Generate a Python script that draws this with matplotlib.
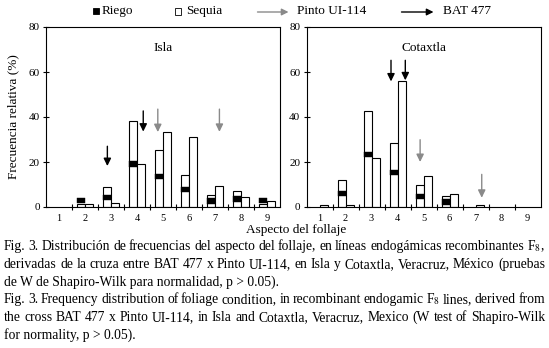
import numpy as np
import matplotlib
matplotlib.use("Agg")
import matplotlib.pyplot as plt
from matplotlib.patches import Rectangle

plt.rcParams['font.family'] = ['Liberation Serif', 'DejaVu Serif']
plt.rcParams['mathtext.fontset'] = 'stix'

# ---------------- data ----------------
categories = [1, 2, 3, 4, 5, 6, 7, 8, 9]

isla_riego_bar = [0, 1.5, 8.8, 38.1, 25.2, 14.2, 5.2, 7.1, 1.4]
isla_riego_mark = [np.nan, 2.9, 4.3, 19.1, 13.5, 7.9, 2.6, 3.5, 3.0]
isla_sequia = [0, 1.5, 1.6, 19.0, 33.2, 31.0, 9.3, 4.3, 2.6]

cot_riego_bar = [0, 12.0, 42.8, 28.4, 9.6, 4.7, 0, 0, 0]
cot_riego_mark = [np.nan, 5.9, 23.4, 15.4, 4.8, 2.2, np.nan, np.nan, np.nan]
cot_sequia = [0.9, 0.9, 21.7, 55.8, 13.7, 5.6, 0.9, 0, 0]

# arrows: x position, top, tip
isla_bat_x, isla_bat_top, isla_bat_tip = [2.86, 4.24], [27.0, 42.7], [18.2, 33.5]
isla_pinto_x, isla_pinto_top, isla_pinto_tip = [4.80, 7.17], [43.5, 43.5], [33.3, 33.4]
cot_bat_x, cot_bat_top, cot_bat_tip = [3.75, 4.30], [65.2, 65.2], [55.8, 56.3]
cot_pinto_x, cot_pinto_top, cot_pinto_tip = [4.87, 7.24], [29.9, 14.5], [20.0, 4.1]

yticks = [0, 20, 40, 60, 80]
panel_titles = ['Isla', 'Cotaxtla']

caption_lines = [
    ("Fig. 3. Distribución de frecuencias del aspecto del follaje, en líneas endogámicas recombinantes F$_{8}$,", True),
    ("derivadas de la cruza entre BAT 477 x Pinto UI-114, en Isla y Cotaxtla, Veracruz, México (pruebas", True),
    ("de W de Shapiro-Wilk para normalidad, p > 0.05).", False),
    ("Fig. 3. Frequency distribution of foliage condition, in recombinant endogamic F$_{8}$ lines, derived from", True),
    ("the cross BAT 477 x Pinto UI-114, in Isla and Cotaxtla, Veracruz, Mexico (W test of Shapiro-Wilk", True),
    ("for normality, p > 0.05).", False),
]

# ---------------- figure ----------------
W, H = 549, 348
fig = plt.figure(figsize=(W / 100, H / 100), dpi=100)
fig.patch.set_facecolor('white')

def fx(px):
    return px / W

def fy(py):
    return 1 - py / H

GREY = '#8a8a8a'
bw = 8 / 26
lw = 0.8

ax1 = fig.add_axes([fx(46), fy(207), fx(234), 180 / H])
ax2 = fig.add_axes([fx(306.5), fy(207), fx(234), 180 / H])

datasets = [
    (ax1, isla_riego_bar, isla_riego_mark, isla_sequia,
     (isla_bat_x, isla_bat_top, isla_bat_tip), (isla_pinto_x, isla_pinto_top, isla_pinto_tip)),
    (ax2, cot_riego_bar, cot_riego_mark, cot_sequia,
     (cot_bat_x, cot_bat_top, cot_bat_tip), (cot_pinto_x, cot_pinto_top, cot_pinto_tip)),
]

x = np.array(categories, dtype=float)
for i, (ax, rb, rm, sq, bat, pinto) in enumerate(datasets):
    rb = np.array(rb, float)
    rm = np.array(rm, float)
    sq = np.array(sq, float)
    m = rb > 0
    ax.bar(x[m] - bw / 2, rb[m], width=bw, facecolor='white', edgecolor='black', linewidth=lw, zorder=2)
    m = sq > 0
    ax.bar(x[m] + bw / 2, sq[m], width=bw, facecolor='white', edgecolor='black', linewidth=lw, zorder=2)
    m = ~np.isnan(rm)
    ax.bar(x[m] - bw / 2, 2.4, bottom=rm[m] - 1.2, width=bw, facecolor='black', edgecolor='black', linewidth=0.3, zorder=3)
    for (xs, tops, tips), col in ((bat, 'black'), (pinto, GREY)):
        for xa, t0, t1 in zip(xs, tops, tips):
            ax.annotate('', xy=(xa, t1), xytext=(xa, t0),
                        arrowprops=dict(arrowstyle='-|>,head_length=0.45,head_width=0.22',
                                        color=col, lw=1.0, shrinkA=0, shrinkB=0,
                                        mutation_scale=10), zorder=4)
    ax.set_xlim(0.5, 9.5)
    ax.set_ylim(0, 80)
    ax.set_yticks(yticks)
    ax.set_yticklabels([str(v) for v in yticks], fontsize=8)
    ax.set_xticks(x)
    ax.set_xticklabels([str(c) for c in categories], fontsize=7.5)
    ax.set_xticks(x[:-1] + 0.5, minor=True)
    ax.tick_params(axis='x', which='major', length=0, pad=5)
    ax.tick_params(axis='x', which='minor', direction='inout', length=5, width=lw)
    ax.tick_params(axis='y', which='major', direction='inout', length=5, width=lw, pad=2)
    for s in ax.spines.values():
        s.set_linewidth(lw)
    ax.text(0.5, 0.885, panel_titles[i], transform=ax.transAxes, ha='center', va='center', fontsize=9.5)

# axis labels
fig.text(fx(13), fy(117), 'Frecuencia relativa (%)', rotation=90, ha='center', va='center', fontsize=9.5)
fig.text(fx(296), fy(230), 'Aspecto del follaje', ha='center', va='center', fontsize=9.5)

# legend
ly = fy(11)
fig.patches.append(Rectangle((fx(92.5), fy(14)), fx(6), 6 / H, transform=fig.transFigure,
                             facecolor='black', edgecolor='black', lw=0.6))
fig.text(fx(101.5), ly, 'Riego', ha='left', va='center', fontsize=9.5)
fig.patches.append(Rectangle((fx(174.5), fy(14.5)), fx(6.5), 6.5 / H, transform=fig.transFigure,
                             facecolor='white', edgecolor='black', lw=0.6))
fig.text(fx(186.5), ly, 'Sequia', ha='left', va='center', fontsize=9.5)
for (x0, x1, col) in ((257.5, 288.5, GREY), (401.5, 433.5, 'black')):
    fig.add_artist(matplotlib.patches.FancyArrowPatch(
        (fx(x0), fy(12)), (fx(x1), fy(12)), transform=fig.transFigure,
        arrowstyle='-|>,head_length=0.4,head_width=0.2', mutation_scale=10,
        color=col, lw=1.0, shrinkA=0, shrinkB=0))
fig.text(fx(297), ly, 'Pinto UI-114', ha='left', va='center', fontsize=9.5)
fig.text(fx(443), ly, 'BAT 477', ha='left', va='center', fontsize=9.5)

# caption (justified)
baselines = [250, 267.7, 285.4, 303, 320.7, 338.4]
renderer = fig.canvas.get_renderer()
x_left, x_right = 4, 545

def natural_gaps(fs):
    worst = 1e9
    for line, just in caption_lines:
        if not just:
            continue
        words = line.split(' ')
        tmp = [fig.text(0, 0, w, fontsize=fs) for w in words]
        tot = sum(t.get_window_extent(renderer).width for t in tmp)
        for t in tmp:
            t.remove()
        worst = min(worst, (x_right - x_left - tot) / (len(words) - 1))
    return worst

cap_fs = 10.5
while cap_fs > 9 and natural_gaps(cap_fs) < 2.2:
    cap_fs -= 0.1

for (line, just), yb in zip(caption_lines, baselines):
    if not just:
        fig.text(fx(x_left), fy(yb), line, ha='left', va='baseline', fontsize=cap_fs)
        continue
    words = line.split(' ')
    ts = [fig.text(0, fy(yb), w, ha='left', va='baseline', fontsize=cap_fs) for w in words]
    widths = [t.get_window_extent(renderer).width for t in ts]
    gap = (x_right - x_left - sum(widths)) / (len(words) - 1)
    xp = x_left
    for t, wd in zip(ts, widths):
        t.set_x(fx(xp))
        xp += wd + gap

fig.savefig('out.png', dpi=100, facecolor='white')
